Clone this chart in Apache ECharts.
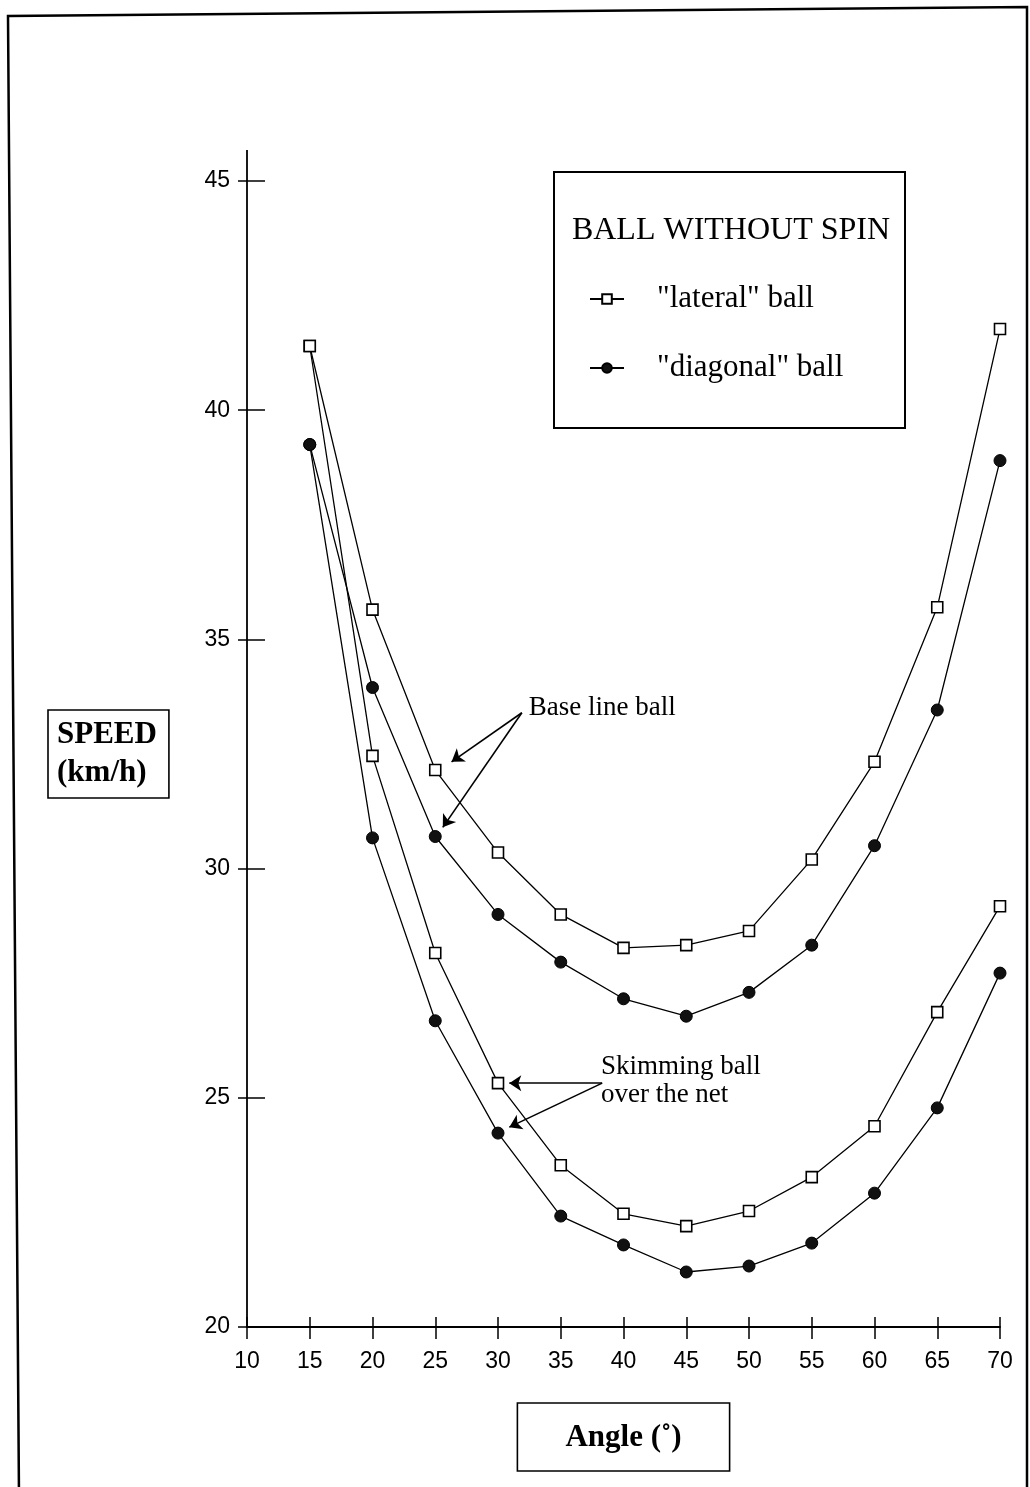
<!DOCTYPE html>
<html><head><meta charset="utf-8">
<script src="https://cdn.jsdelivr.net/npm/echarts@6/dist/echarts.min.js"></script>
<style>html,body{margin:0;padding:0;background:#fff}#c{width:1030px;height:1487px}</style>
</head><body><div id="c"></div>
<script>
// ---- data ----
const angles = [15, 20, 25, 30, 35, 40, 45, 50, 55, 60, 65, 70];
const baseLateral   = [41.4, 35.65, 32.15, 30.35, 29.0, 28.27, 28.33, 28.64, 30.2, 32.33, 35.7, 41.77];
const baseDiagonal  = [39.25, 33.95, 30.7, 29.0, 27.96, 27.16, 26.78, 27.3, 28.33, 30.5, 33.46, 38.9];
const skimLateral   = [41.4, 32.46, 28.16, 25.32, 23.53, 22.47, 22.2, 22.53, 23.27, 24.38, 26.87, 29.18];
const skimDiagonal  = [39.25, 30.67, 26.68, 24.23, 22.42, 21.79, 21.2, 21.33, 21.83, 22.92, 24.78, 27.72];
const xMin = 10, xMax = 70, xStep = 5;
const yMin = 20, yMax = 45, yStep = 5;
const legendTitle = 'BALL WITHOUT SPIN';
const lateralName = '"lateral" ball';
const diagonalName = '"diagonal" ball';
const yName = 'SPEED\n(km/h)';
const xName = 'Angle (\u02da)';
// annotation arrows in data coordinates [from, to]
const baseArrows = [[[31.9, 33.4], [26.3, 32.33]], [[31.9, 33.4], [25.6, 30.9]]];
const skimArrows = [[[38.3, 25.32], [30.9, 25.32]], [[38.3, 25.32], [30.9, 24.36]]];
const baseText = {text: 'Base line ball', at: [32.45, 33.5]};
const skimText = {text: 'Skimming ball\nover the net', at: [38.2, 25.36]};

const pairs = v => angles.map((a, i) => [a, v[i]]);
const SERIF = '"Liberation Serif", "Times New Roman", serif';
const SANS = '"Liberation Sans", Arial, sans-serif';

const chart = echarts.init(document.getElementById('c'), null, {renderer: 'canvas'});

function lineSeries(name, data, kind) {
  const sq = kind === 'sq';
  return {
    name, type: 'line', data: pairs(data), xAxisIndex: 0, yAxisIndex: 0,
    symbol: sq ? 'rect' : 'circle', symbolSize: sq ? 11 : 12,
    showAllSymbol: true,
    lineStyle: {color: '#000', width: 1.3},
    itemStyle: sq ? {color: '#fff', borderColor: '#000', borderWidth: 1.6}
                  : {color: '#111', borderColor: '#000', borderWidth: 1},
    emphasis: {disabled: true}, animation: false, z: 3
  };
}

const arrowStyle = {
  silent: true, symbol: ['none', 'arrow'], symbolSize: 12, animation: false,
  lineStyle: {color: '#000', width: 1.6, type: 'solid'}, label: {show: false},
  emphasis: {disabled: true}
};

const series = [
  lineSeries(lateralName, baseLateral, 'sq'),
  lineSeries(diagonalName, baseDiagonal, 'ci'),
  lineSeries(lateralName, skimLateral, 'sq'),
  lineSeries(diagonalName, skimDiagonal, 'ci')
];
series[0].markLine = Object.assign({}, arrowStyle, {
  data: baseArrows.concat(skimArrows).map(p => [{coord: p[0]}, {coord: p[1]}])
});

const option = {
  backgroundColor: '#fff',
  animation: false,
  grid: {left: 247, right: 30, top: 181, bottom: 160, containLabel: false},
  title: {
    text: legendTitle, left: 726, top: 210, textAlign: 'center',
    textStyle: {fontFamily: SERIF, fontSize: 32, fontWeight: 'normal', color: '#000'}
  },
  legend: {
    data: [lateralName, diagonalName], orient: 'vertical', left: 584, top: 277,
    itemWidth: 34, itemHeight: 12, itemGap: 35, selectedMode: false,
    textStyle: {fontFamily: SERIF, fontSize: 31, color: '#000', lineHeight: 34, padding: [0, 0, 0, 28]}
  },
  xAxis: [{
    type: 'value', min: xMin, max: xMax, interval: xStep, position: 'bottom',
    name: xName, nameLocation: 'middle', nameGap: 76,
    nameTextStyle: {fontFamily: SERIF, fontSize: 31, fontWeight: 'bold', color: '#000',
      borderColor: '#000', borderWidth: 1.6, padding: [19, 48, 18, 48], verticalAlign: 'top'},
    axisLine: {lineStyle: {color: '#000', width: 1.8}},
    axisTick: {inside: false, length: 12, lineStyle: {color: '#000', width: 1.5}},
    axisLabel: {color: '#000', fontFamily: SANS, fontSize: 23, margin: 23},
    splitLine: {show: false}
  }, {
    type: 'value', min: xMin, max: xMax, interval: xStep, position: 'bottom',
    axisLine: {show: false}, axisLabel: {show: false}, splitLine: {show: false},
    axisTick: {inside: true, length: 10, lineStyle: {color: '#000', width: 1.5}}
  }],
  yAxis: [{
    type: 'value', min: yMin, max: yMax, interval: yStep, position: 'left',
    name: yName, nameLocation: 'middle', nameGap: 199, nameRotate: 0,
    nameTextStyle: {fontFamily: SERIF, fontSize: 31, fontWeight: 'bold', color: '#000',
      lineHeight: 38, borderColor: '#000', borderWidth: 1.6, padding: [6, 12, 6, 9], align: 'left'},
    axisLine: {lineStyle: {color: '#000', width: 1.8}},
    axisTick: {inside: false, length: 9, lineStyle: {color: '#000', width: 1.5}},
    axisLabel: {color: '#000', fontFamily: SANS, fontSize: 23, margin: 17},
    splitLine: {show: false}
  }, {
    type: 'value', min: yMin, max: yMax, interval: yStep, position: 'left',
    axisLine: {show: false}, axisLabel: {show: false}, splitLine: {show: false},
    axisTick: {inside: true, length: 18, lineStyle: {color: '#000', width: 1.5}}
  }],
  series
};
chart.setOption(option);

const px = p => chart.convertToPixel({gridIndex: 0}, p);
const topPt = px([xMin, yMax]);
const bt = px(baseText.at), st = px(skimText.at);
chart.setOption({
  graphic: [
    {type: 'polyline', silent: true, shape: {points: [[19, 1495], [8, 16], [1027, 7], [1027, 1495]]},
     style: {stroke: '#000', lineWidth: 2.5, fill: null}},
    {type: 'line', silent: true, shape: {x1: topPt[0], y1: topPt[1], x2: topPt[0], y2: topPt[1] - 31},
     style: {stroke: '#000', lineWidth: 1.8}},
    {type: 'rect', silent: true, shape: {x: 554, y: 172, width: 351, height: 256},
     style: {stroke: '#000', lineWidth: 2, fill: null}, z: 1},
    {type: 'text', silent: true, x: bt[0], y: bt[1],
     style: {text: baseText.text, font: '27px ' + SERIF, fill: '#000', verticalAlign: 'middle'}},
    {type: 'text', silent: true, x: st[0], y: st[1],
     style: {text: skimText.text, font: '27px ' + SERIF, fill: '#000', lineHeight: 28, verticalAlign: 'middle'}}
  ]
});
</script></body></html>
